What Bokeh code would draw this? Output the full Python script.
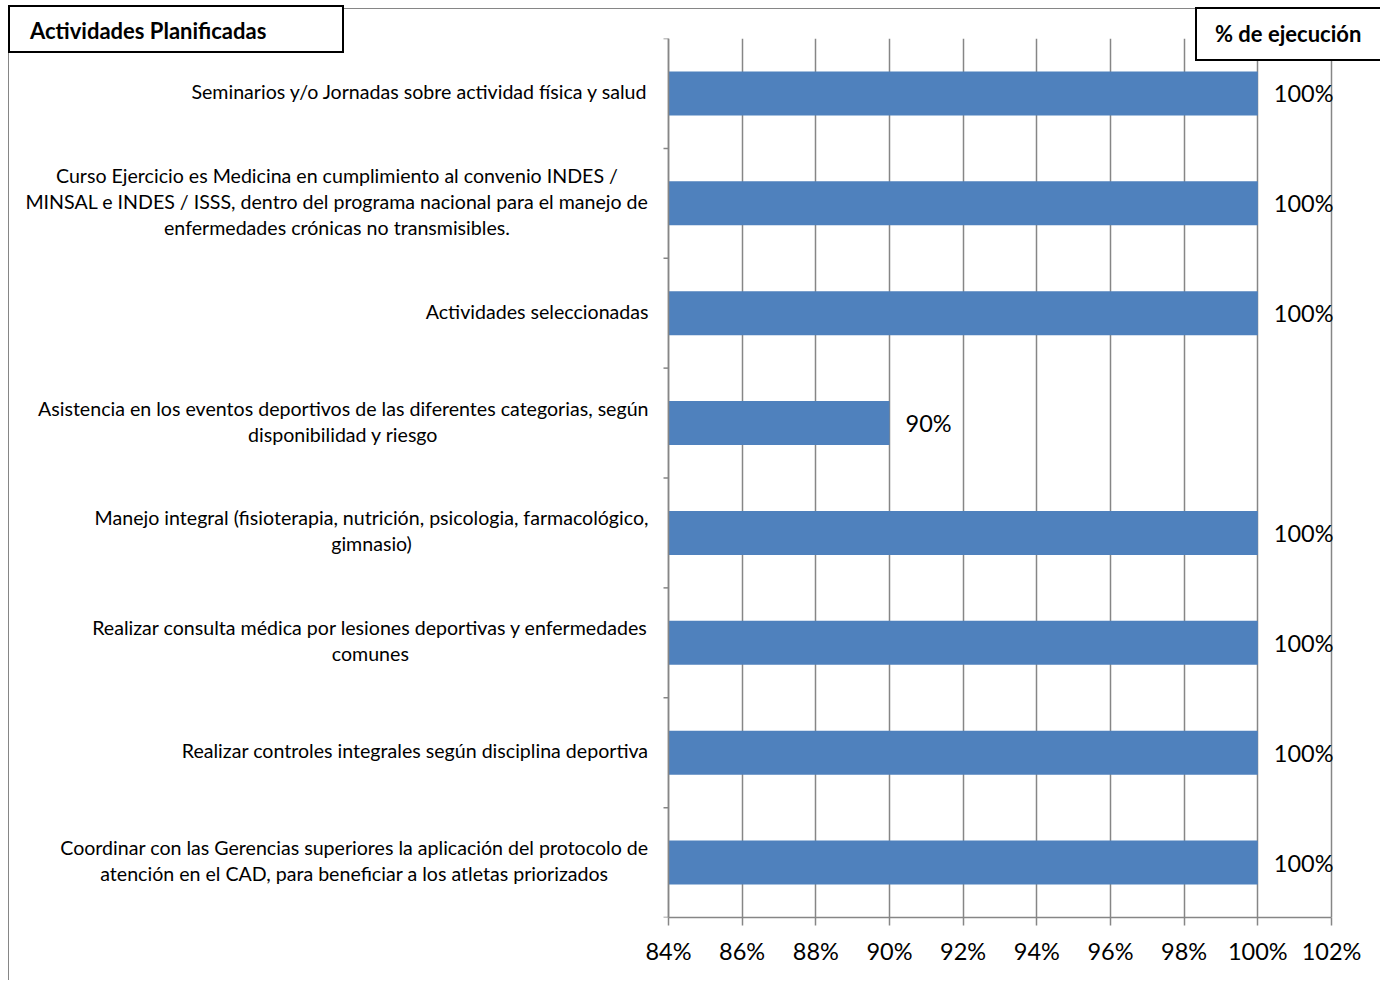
import math
from bokeh.plotting import figure
from bokeh.models import Range1d, FixedTicker, PrintfTickFormatter, ColumnDataSource, Div, Span
from bokeh.layouts import column
from bokeh.embed import file_html
from bokeh.resources import INLINE
from bokeh.core.properties import value

actividades = [
    "Seminarios y/o Jornadas sobre actividad física y salud",
    "Curso Ejercicio es Medicina en cumplimiento al convenio INDES /\nMINSAL e INDES / ISSS, dentro del programa nacional para el manejo de\nenfermedades crónicas no transmisibles.",
    "Actividades seleccionadas",
    "Asistencia en los eventos deportivos de las diferentes categorias, según\ndisponibilidad y riesgo",
    "Manejo integral (fisioterapia, nutrición, psicologia, farmacológico,\ngimnasio)",
    "Realizar consulta médica por lesiones deportivas y enfermedades\ncomunes",
    "Realizar controles integrales según disciplina deportiva",
    "Coordinar con las Gerencias superiores la aplicación del protocolo de\natención en el CAD, para beneficiar a los atletas priorizados",
]
ejecucion = [100, 100, 100, 90, 100, 100, 100, 100]
x_ticks = [84, 86, 88, 90, 92, 94, 96, 98, 100, 102]
titulo_izq = "Actividades Planificadas"
titulo_der = "% de ejecución"

FONT = "Lato"
GRAY = "#868686"
BLUE = "#4F81BD"

# layout geometry (pixels)
W, H = 1371, 971
LEFT_PX = 659      # canvas left edge -> axis minimum
SPAN_PX = 663      # axis minimum -> axis maximum
EXTRA_PX = 7       # room right of the last gridline for labels
unit = SPAN_PX / (x_ticks[-1] - x_ticks[0])
x_start = x_ticks[0] - LEFT_PX / unit
x_end = x_ticks[-1] + EXTRA_PX / unit

n = len(actividades)
centers = [i + 0.5 for i in range(n)]
bounds = [float(i) for i in range(n + 1)]

p = figure(width=W, height=H, output_backend="svg", toolbar_location=None,
           x_range=Range1d(x_start, x_end), y_range=Range1d(n, 0),
           min_border_left=0, min_border_right=W - LEFT_PX - SPAN_PX - EXTRA_PX,
           min_border_top=29, min_border_bottom=63, title=None)
p.outline_line_color = None
p.background_fill_color = "white"
p.border_fill_color = "white"

src = ColumnDataSource(dict(y=centers, v=ejecucion, lbl=[f"{v}%" for v in ejecucion],
                            cat=actividades))
p.hbar(y="y", left=x_ticks[0], right="v", height=0.4, source=src, fill_color=BLUE, line_color=None)
p.text(x="v", y="y", text="lbl", source=src, x_offset=16, text_align="left",
       text_baseline="middle", text_font=value(FONT), text_font_size="23.5px", text_color="black")

# category labels (centered lines, block right-aligned to the axis)
p.text(x=x_ticks[0], y="y", text="cat", source=src, x_offset=-20, y_offset=-2,
       anchor="center_right", text_align="center", text_baseline="middle",
       text_font=value(FONT), text_font_size="19.6px", text_line_height=1.13,
       text_color="black")

# category axis line and boundary ticks
p.add_layout(Span(location=x_ticks[0], dimension="height", line_color=GRAY, line_width=1.5))
p.ray(x=[x_ticks[0]] * len(bounds), y=bounds, length=5, length_units="screen", angle=math.pi,
      line_color=GRAY, line_width=1.5)

# x axis
xa = p.xaxis[0]
xa.bounds = (x_ticks[0], x_ticks[-1])
xa.ticker = FixedTicker(ticks=x_ticks, minor_ticks=[])
xa.formatter = PrintfTickFormatter(format="%d%%")
xa.axis_line_color = GRAY
xa.axis_line_width = 1.5
xa.major_tick_line_color = GRAY
xa.major_tick_line_width = 1.5
xa.major_tick_out = 8
xa.major_tick_in = 0
xa.minor_tick_line_color = None
xa.major_label_text_font = FONT
xa.major_label_text_font_size = "23.5px"
xa.major_label_text_color = "black"
xa.major_label_standoff = 11

p.yaxis.visible = False

p.xgrid.ticker = FixedTicker(ticks=x_ticks, minor_ticks=[])
p.xgrid.grid_line_color = GRAY
p.xgrid.grid_line_width = 1.5
p.ygrid.grid_line_color = None

box_css = {"position": "absolute", "box-sizing": "border-box", "border": "2px solid black",
           "background": "white", "font-family": FONT, "font-weight": "bold",
           "font-size": "22px", "color": "black", "display": "flex", "align-items": "center",
           "z-index": "10"}
div_izq = Div(text=titulo_izq, width=336, height=48, margin=0,
              styles={**box_css, "left": "-1px", "top": "-4px", "padding-left": "20px",
                      "padding-top": "4px"})
div_der = Div(text=titulo_der, width=185, height=54, margin=0,
              styles={**box_css, "left": "1186px", "top": "-2px", "padding-left": "18px",
                      "border-right": "none"})

layout = column(p, div_izq, div_der,
                styles={"position": "relative", "margin-left": "8px", "margin-top": "8px",
                        "border-top": "1px solid #868686", "border-left": "1px solid #868686"})

open("out.html", "w").write(file_html(layout, INLINE))
